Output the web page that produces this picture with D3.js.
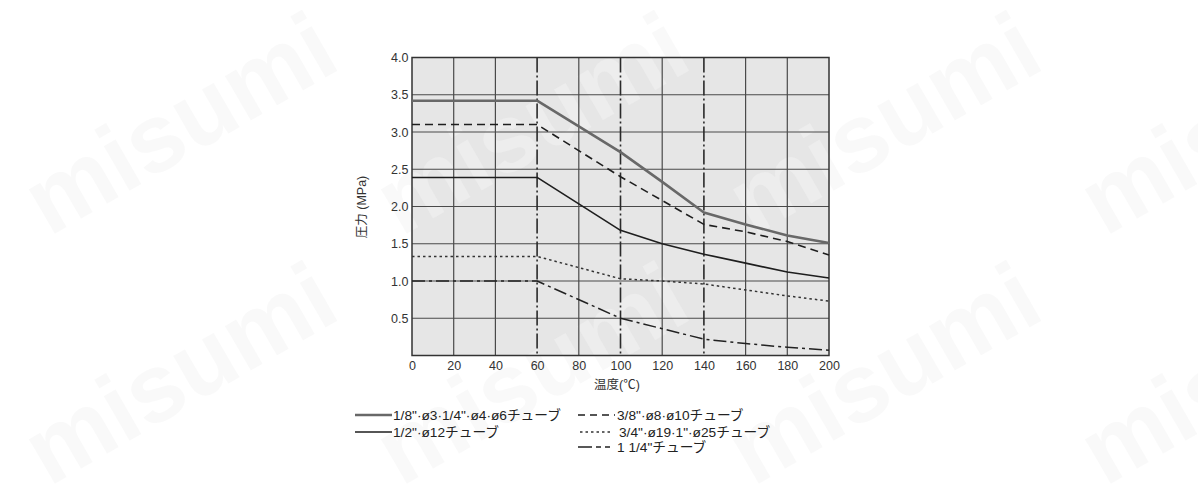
<!DOCTYPE html>
<html><head><meta charset="utf-8">
<script src="https://cdn.jsdelivr.net/npm/d3@7"></script>
<style>
html,body{margin:0;padding:0;background:#fff;}
svg{display:block;}
text{font-family:"Liberation Sans","Noto Sans CJK JP",sans-serif;}
</style></head>
<body>
<svg id="chart" width="1198" height="500"></svg>
<script>
// ---- data ----
const xTicks = [0,20,40,60,80,100,120,140,160,180,200];
const yTicks = [0.5,1.0,1.5,2.0,2.5,3.0,3.5,4.0];
const dashDotGridX = [60,100,140];
const temps = [0,60,100,120,140,160,180,200];
const s1_8 = [3.42,3.42,2.73,2.33,1.92,1.76,1.61,1.51];   // 1/8"·ø3·1/4"·ø4·ø6
const s3_8 = [3.10,3.10,2.40,2.08,1.76,1.66,1.53,1.35];   // 3/8"·ø8·ø10
const s1_2 = [2.39,2.39,1.68,1.50,1.36,1.24,1.12,1.04];   // 1/2"·ø12
const s3_4 = [1.33,1.33,1.03,1.00,0.96,0.88,0.80,0.73];   // 3/4"·ø19·1"·ø25
const s1_14 = [1.00,1.00,0.50,0.36,0.22,0.16,0.11,0.07];  // 1 1/4"
const seriesNames = ['1/8"·ø3·1/4"·ø4·ø6チューブ','3/8"·ø8·ø10チューブ','1/2"·ø12チューブ','3/4"·ø19·1"·ø25チューブ','1 1/4"チューブ'];
const xLabel = "温度(℃)";
const yLabel = "圧力 (MPa)";
const watermark = "misumi";

// ---- drawing ----
const svg = d3.select("#chart");
const L = 412, R = 829, T = 57.5, B = 355.5;
const x = d3.scaleLinear().domain([0,200]).range([L,R]);
const y = d3.scaleLinear().domain([0,4]).range([B,T]);

// plot background
svg.append("rect").attr("x",L).attr("y",T).attr("width",R-L).attr("height",B-T).attr("fill","#e6e6e6");

// watermark overlay (light, semi-transparent)
const wmPos = [];
[237,487].forEach(by=>[49,401,753,1105].forEach(bx=>wmPos.push([bx,by])));
svg.append("g").selectAll("text").data(wmPos).join("text")
  .attr("transform", d=>`translate(${d[0]},${d[1]}) rotate(-30)`)
  .attr("font-size",97).attr("font-weight","bold")
  .attr("fill","#f3f3f3").attr("fill-opacity",0.5).text(watermark);

// grid
const grid = svg.append("g");
grid.selectAll("line.h").data(yTicks).join("line")
  .attr("x1",L).attr("x2",R).attr("y1",d=>y(d)).attr("y2",d=>y(d))
  .attr("stroke","#4a4a4a").attr("stroke-width",1.2);
grid.selectAll("line.v").data(xTicks.filter(t=>t>0&&t<200&&!dashDotGridX.includes(t))).join("line")
  .attr("x1",d=>x(d)).attr("x2",d=>x(d)).attr("y1",T).attr("y2",B)
  .attr("stroke","#4a4a4a").attr("stroke-width",1.2);
svg.append("g").selectAll("line").data(dashDotGridX).join("line")
  .attr("x1",d=>x(d)).attr("x2",d=>x(d)).attr("y1",T).attr("y2",B)
  .attr("stroke","#2a2a2a").attr("stroke-width",1.6).attr("stroke-dasharray","15,3,2,3");
svg.append("rect").attr("x",L).attr("y",T).attr("width",R-L).attr("height",B-T)
  .attr("fill","none").attr("stroke","#333").attr("stroke-width",1.5);

// axes
const xAxis = d3.axisBottom(x).tickValues(xTicks).tickSize(0).tickPadding(6);
const gx = svg.append("g").attr("transform",`translate(0,${B})`).call(xAxis);
gx.select(".domain").remove();
gx.selectAll("text").attr("font-size",12.5).attr("fill","#333").attr("font-family",'"Liberation Sans",sans-serif');
const yAxis = d3.axisLeft(y).tickValues(yTicks).tickSize(0).tickPadding(3.5).tickFormat(d3.format(".1f"));
const gy = svg.append("g").attr("transform",`translate(${L},0)`).call(yAxis);
gy.select(".domain").remove();
gy.selectAll("text").attr("font-size",12.5).attr("fill","#333").attr("font-family",'"Liberation Sans",sans-serif');

svg.append("text").attr("x",617).attr("y",389).attr("text-anchor","middle")
  .attr("font-size",12.5).attr("fill","#333").text(xLabel);
svg.append("text").attr("transform","translate(366,207) rotate(-90)").attr("text-anchor","middle")
  .attr("font-size",12.5).attr("fill","#333").text(yLabel);

// series
const styles = [
  {data:s1_8, stroke:"#686868", w:2.6, dash:null},
  {data:s3_8, stroke:"#1e1e1e", w:1.6, dash:"8,5"},
  {data:s1_2, stroke:"#1e1e1e", w:1.6, dash:null},
  {data:s3_4, stroke:"#333", w:1.5, dash:"2.5,3"},
  {data:s1_14, stroke:"#222", w:1.5, dash:"13,4,3,4"}
];
const line = d3.line().x((d,i)=>x(temps[i])).y(d=>y(d));
const lg = svg.append("g");
styles.forEach(s=>{
  lg.append("path").datum(s.data).attr("d",line).attr("fill","none")
    .attr("stroke",s.stroke).attr("stroke-width",s.w)
    .attr("stroke-dasharray",s.dash).attr("stroke-linejoin","round");
});

// legend
const legendItems = [
  {i:0, x1:355, x2:392, tx:393, y:415, dash:null},
  {i:1, x1:578, x2:615, tx:617, y:415, dash:"7,5"},
  {i:2, x1:355, x2:392, tx:393, y:432, dash:null},
  {i:3, x1:580, x2:613, tx:619, y:432, dash:"2.5,3"},
  {i:4, x1:578, x2:614, tx:617, y:447, dash:"14,4,5,4,5,4"}
];
const leg = svg.append("g");
legendItems.forEach(li=>{
  const s = styles[li.i];
  leg.append("line").attr("x1",li.x1).attr("x2",li.x2).attr("y1",li.y).attr("y2",li.y)
    .attr("stroke",s.stroke).attr("stroke-width",s.w)
    .attr("stroke-dasharray", li.dash);
  leg.append("text").attr("x",li.tx).attr("y",li.y+5).attr("font-size",13.7)
    .attr("fill","#222").text(seriesNames[li.i]);
});
</script>
</body></html>
